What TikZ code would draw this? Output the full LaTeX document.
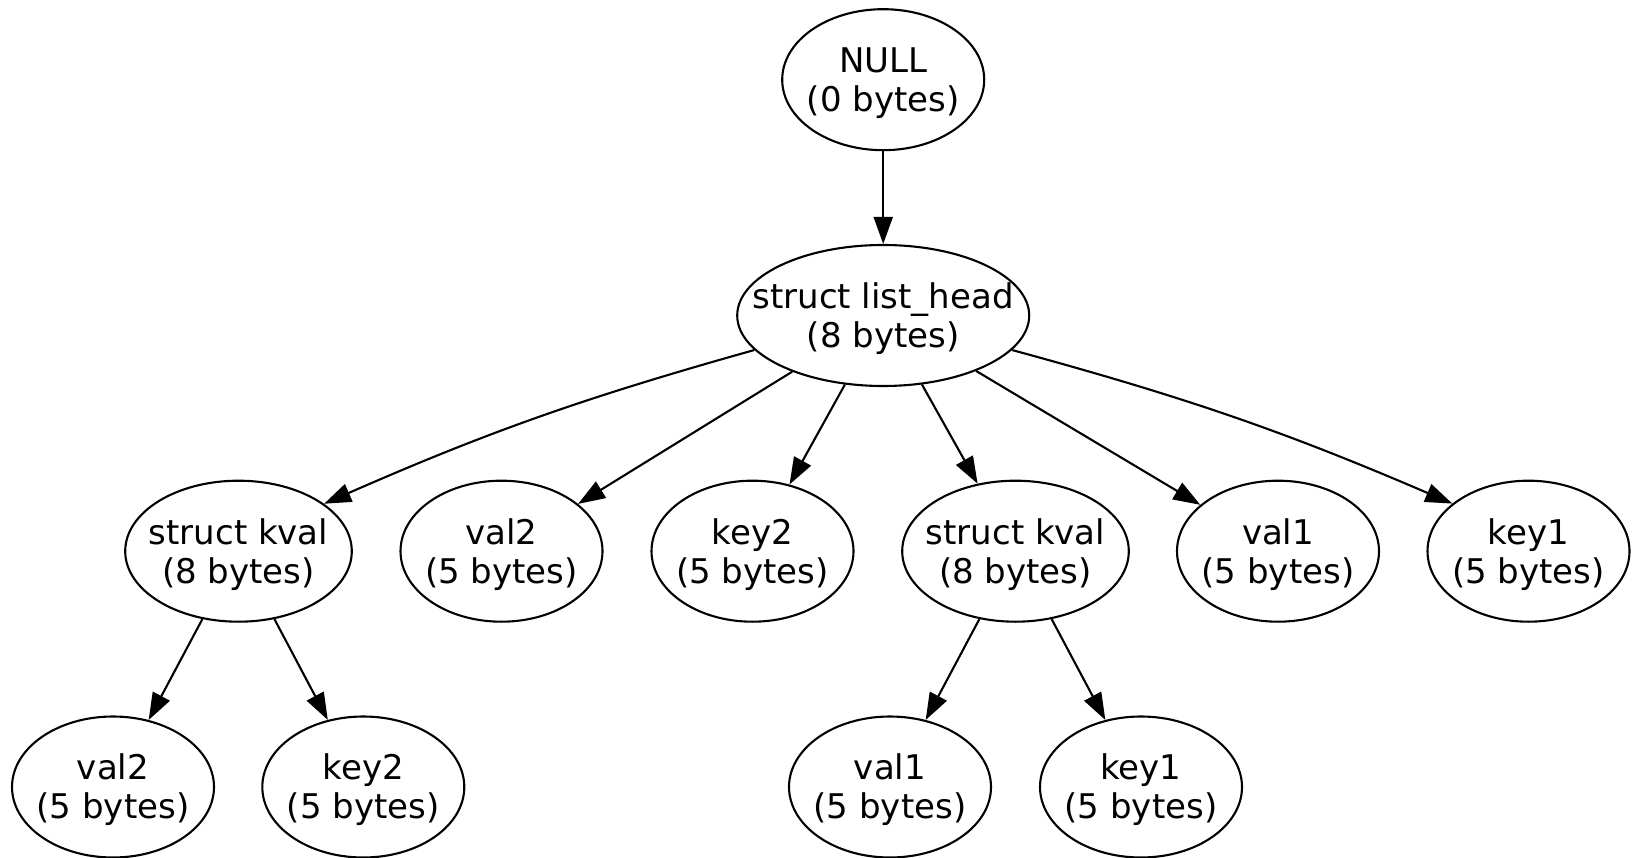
\documentclass[tikz,border=0pt]{standalone}
\usepackage{fontspec}
\setmainfont{DejaVu Sans}
\usetikzlibrary{shapes.geometric,arrows.meta}

% two-line label; the strut fixes the first line's height so all labels sit alike
\newcommand\twolines[2]{\rule{0pt}{32pt}#1\\#2}

\tikzset{
  obj/.style={draw, ellipse, line width=2.1pt,
    minimum width=202pt, minimum height=141pt,
    inner xsep=-60pt, inner ysep=0pt, align=center,
    font=\fontsize{34}{39}\selectfont},
  kvalobj/.style={obj, minimum width=226.6pt},
  headobj/.style={obj, minimum width=292pt},
  link/.style={line width=2.1pt, -{Triangle[length=27pt,width=19pt]}},
}

\begin{document}
\begin{tikzpicture}[x=1pt, y=1pt]
  \useasboundingbox (0,0) rectangle (1635,-858);
  \fill[white] (0,0) rectangle (1635,-858);

  % allocation tree
  \node[obj]     (null) at (883.2,-79.7)  {\twolines{NULL}{(0 bytes)}};
  \node[headobj] (lh)   at (883.2,-315.5) {\twolines{struct list\_head}{(8 bytes)}};

  \node[kvalobj] (kvb)  at (238.5,-551.2)  {\twolines{struct kval}{(8 bytes)}};
  \node[obj]     (valb) at (501.5,-551.2)  {\twolines{val2}{(5 bytes)}};
  \node[obj]     (keyb) at (752.5,-551.2)  {\twolines{key2}{(5 bytes)}};
  \node[kvalobj] (kva)  at (1015.5,-551.2) {\twolines{struct kval}{(8 bytes)}};
  \node[obj]     (vala) at (1278,-551.2)   {\twolines{val1}{(5 bytes)}};
  \node[obj]     (keya) at (1528.5,-551.2) {\twolines{key1}{(5 bytes)}};

  \node[obj] (kvbval) at (113,-787)   {\twolines{val2}{(5 bytes)}};
  \node[obj] (kvbkey) at (363.3,-787) {\twolines{key2}{(5 bytes)}};
  \node[obj] (kvaval) at (890,-787)   {\twolines{val1}{(5 bytes)}};
  \node[obj] (kvakey) at (1141,-787)  {\twolines{key1}{(5 bytes)}};

  % references
  \draw[link] (null) -- (lh);
  \draw[link] (lh.195) to[bend right=4] (kvb.29.3);
  \draw[link] (lh) -- (valb);
  \draw[link] (lh) -- (keyb);
  \draw[link] (lh) -- (kva);
  \draw[link] (lh) -- (vala);
  \draw[link] (lh.345.8) to[bend left=4] (keya.148.2);

  \draw[link] (kvb) -- (kvbval);
  \draw[link] (kvb) -- (kvbkey);
  \draw[link] (kva) -- (kvaval);
  \draw[link] (kva) -- (kvakey);
\end{tikzpicture}
\end{document}
